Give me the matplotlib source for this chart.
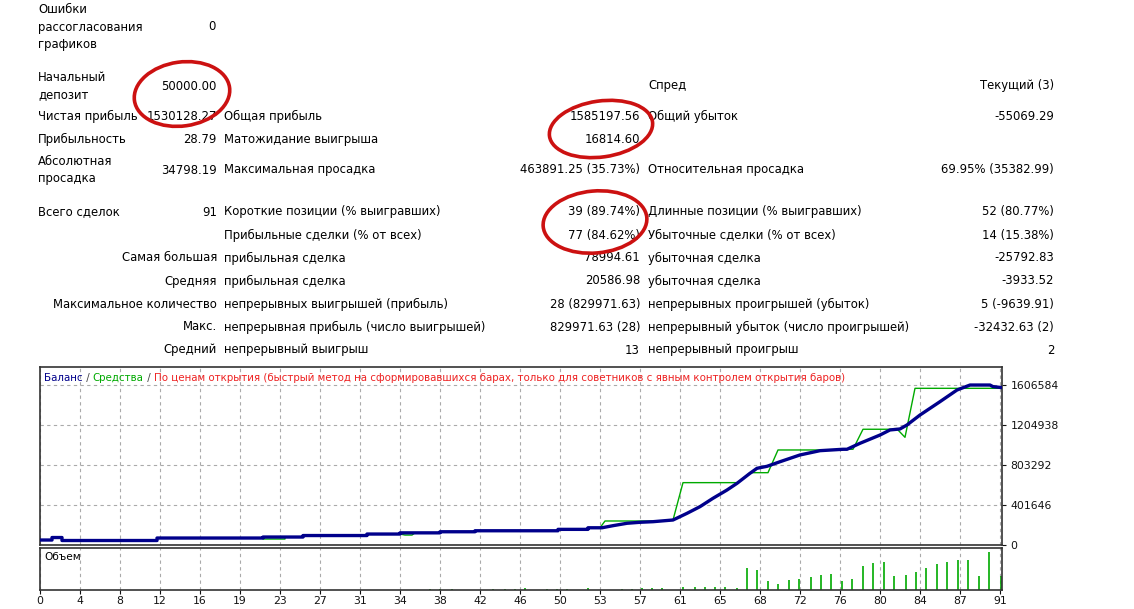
import matplotlib as mpl
mpl.use('Agg')
from matplotlib import pyplot as plt
from matplotlib.patches import Ellipse

W, H = 1134, 609

# ---- report table rows ----
rows_left = [
    # (y, label col1, value col2, label col3, value col4, label col5, value col6)
    (86,  'Начальный\nдепозит', '50000.00', '', '', 'Спред', 'Текущий (3)'),
    (116, 'Чистая прибыль', '1530128.27', 'Общая прибыль', '1585197.56', 'Общий убыток', '-55069.29'),
    (139, 'Прибыльность', '28.79', 'Матожидание выигрыша', '16814.60', '', ''),
    (170, 'Абсолютная\nпросадка', '34798.19', 'Максимальная просадка', '463891.25 (35.73%)',
     'Относительная просадка', '69.95% (35382.99)'),
    (212, 'Всего сделок', '91', 'Короткие позиции (% выигравших)', '39 (89.74%)',
     'Длинные позиции (% выигравших)', '52 (80.77%)'),
    (235, '', '', 'Прибыльные сделки (% от всех)', '77 (84.62%)',
     'Убыточные сделки (% от всех)', '14 (15.38%)'),
]
rows_right = [
    (258, 'Самая большая', 'прибыльная сделка', '78994.61', 'убыточная сделка', '-25792.83'),
    (281, 'Средняя', 'прибыльная сделка', '20586.98', 'убыточная сделка', '-3933.52'),
    (304, 'Максимальное количество', 'непрерывных выигрышей (прибыль)', '28 (829971.63)',
     'непрерывных проигрышей (убыток)', '5 (-9639.91)'),
    (327, 'Макс.', 'непрерывная прибыль (число выигрышей)', '829971.63 (28)',
     'непрерывный убыток (число проигрышей)', '-32432.63 (2)'),
    (350, 'Средний', 'непрерывный выигрыш', '13', 'непрерывный проигрыш', '2'),
]

# ---- chart data (x in grid positions, one grid step per x label) ----
x_labels = ['0', '4', '8', '12', '16', '19', '23', '27', '31', '34', '38', '42', '46',
            '50', '53', '57', '61', '65', '68', '72', '76', '80', '84', '87', '91']
y_ticks = [0, 401646, 803292, 1204938, 1606584]

bal_x = [0.0, 0.3, 0.3, 0.55, 0.55, 2.925, 2.925, 5.575, 5.575, 6.575, 6.575, 8.175,
         8.175, 9.0, 9.0, 10.0, 10.0, 10.875, 10.875, 12.95, 12.95, 13.7, 13.7, 14.05,
         14.325, 14.675, 15.0, 15.325, 15.825, 16.175, 16.5, 16.825, 17.175, 17.425,
         17.75, 17.925, 18.175, 18.5, 19.0, 19.5, 20.075, 20.175, 20.5, 21.0, 21.25,
         21.5, 21.675, 22.0, 22.5, 22.925, 23.25, 23.75, 23.825, 24.05]
bal_y = [50000, 50000, 75000, 75000, 45000, 45000, 70000, 70000, 80000, 80000, 95000,
         95000, 110000, 110000, 122000, 122000, 133000, 133000, 143000, 143000, 157000,
         157000, 173000, 173000, 194000, 218000, 228000, 234000, 251000, 318000, 385000,
         469000, 552000, 619000, 720000, 770000, 790000, 836000, 904000, 947000,
         961000, 961000, 1021000, 1104000, 1155000, 1165000, 1205000, 1305000,
         1439000, 1556000, 1606000, 1606000, 1590000, 1580000]

eq_x = [0.0, 0.3, 0.3, 0.55, 0.55, 2.925, 2.925, 5.575, 5.575, 6.125, 6.125, 6.575,
        6.575, 8.175, 8.175, 9.0, 9.125, 9.3, 9.375, 10.0, 10.0, 10.875, 10.875, 12.95,
        12.95, 13.7, 13.7, 14.0, 14.125, 15.3, 15.325, 15.825, 16.075, 17.425, 17.425,
        17.75, 18.2, 18.45, 20.0, 20.125, 20.325, 20.575, 21.375, 21.425, 21.625,
        21.875, 24.05]
eq_y = [50000, 50000, 70000, 70000, 45000, 45000, 70000, 70000, 60000, 60000, 80000,
        80000, 95000, 95000, 110000, 110000, 100000, 100000, 122000, 122000, 133000,
        133000, 143000, 143000, 157000, 157000, 173000, 173000, 241000, 241000, 234000,
        251000, 626000, 626000, 619000, 726000, 726000, 954000, 954000, 961000, 961000,
        1162000, 1162000, 1165000, 1081000, 1573000, 1573000]

vol_x = [9.75, 10.0, 10.3, 11.325, 11.625, 11.875, 12.125, 12.675, 12.925, 13.175, 13.7,
         14.55, 14.8, 15.05, 15.3, 15.55, 16.075, 16.375, 16.625, 16.875, 17.125, 17.425,
         17.675, 17.925, 18.2, 18.45, 18.725, 18.975, 19.275, 19.525, 19.775, 20.05,
         20.3, 20.575, 20.825, 21.1, 21.35, 21.65, 21.9, 22.15, 22.425, 22.675, 22.95,
         23.2, 23.475, 23.725, 24.025]
vol_y = [1.0, 1.0, 1.0, 1.0, 1.0, 1.0, 1.5, 1.0, 1.0, 1.0, 2.0, 1.0, 1.0, 2.0, 2.0,
         2.0, 2.5, 2.5, 3.0, 3.0, 3.0, 2.0, 21.0, 19.3, 8.3, 6.0, 9.3, 11.0, 13.0,
         14.3, 15.7, 8.3, 10.7, 23.3, 26.0, 27.3, 13.3, 14.3, 17.3, 21.7, 25.7, 27.3,
         29.3, 29.7, 13.3, 36.7, 14.0]

NAVY = '#00008b'
GREEN = '#00aa00'
RED = '#cc1111'

plt.rcParams['font.family'] = ['DejaVu Sans']
fig = plt.figure(figsize=(W / 100, H / 100), dpi=100)


def fx(px):
    return px / W


def fy(py):
    return 1 - py / H


fs = 8.4
fig.text(fx(38), fy(27), 'Ошибки\nрассогласования\nграфиков', fontsize=fs, va='center',
         ha='left', linespacing=1.45)
fig.text(fx(216), fy(27), '0', fontsize=fs, va='center', ha='right')

for y, l1, v2, l3, v4, l5, v6 in rows_left:
    fig.text(fx(38), fy(y), l1, fontsize=fs, va='center', ha='left', linespacing=1.4)
    fig.text(fx(217), fy(y), v2, fontsize=fs, va='center', ha='right')
    fig.text(fx(224), fy(y), l3, fontsize=fs, va='center', ha='left')
    fig.text(fx(640), fy(y), v4, fontsize=fs, va='center', ha='right')
    fig.text(fx(648), fy(y), l5, fontsize=fs, va='center', ha='left')
    fig.text(fx(1054), fy(y), v6, fontsize=fs, va='center', ha='right')

for y, l1, l3, v4, l5, v6 in rows_right:
    fig.text(fx(217), fy(y), l1, fontsize=fs, va='center', ha='right')
    fig.text(fx(224), fy(y), l3, fontsize=fs, va='center', ha='left')
    fig.text(fx(640), fy(y), v4, fontsize=fs, va='center', ha='right')
    fig.text(fx(648), fy(y), l5, fontsize=fs, va='center', ha='left')
    fig.text(fx(1054), fy(y), v6, fontsize=fs, va='center', ha='right')

# ---- main balance / equity chart ----
ax = fig.add_axes([fx(40), fy(545), fx(962), 178 / H])
ax.plot(eq_x, eq_y, color=GREEN, lw=1.0, zorder=3)
ax.plot(bal_x, bal_y, color=NAVY, lw=2.4, zorder=4, solid_joinstyle='round')
ax.set_xlim(0, 24.05)
ax.set_ylim(0, 1787000)
ax.set_xticks(range(len(x_labels)))
ax.set_xticklabels([])
ax.tick_params(axis='x', length=0)
ax.set_yticks(y_ticks)
ax.yaxis.tick_right()
ax.set_yticklabels([str(v) for v in y_ticks], fontsize=7.8)
ax.tick_params(axis='y', length=3, pad=3, colors='#111111')
ax.grid(True, ls=(0, (3, 3)), color='#aaaaaa', lw=0.8)
for s in ax.spines.values():
    s.set_color('#333333')
    s.set_linewidth(1.2)

title_parts = [('Баланс', NAVY), (' / ', '#444444'), ('Средства', GREEN), (' / ', '#444444'),
               ('По ценам открытия (быстрый метод на сформировавшихся барах, только для '
                'советников с явным контролем открытия баров)', '#ee2222')]
renderer = fig.canvas.get_renderer()
xpos = fx(44)
for txt, col in title_parts:
    t = fig.text(xpos, fy(378), txt, color=col, fontsize=7.4, va='center', ha='left')
    xpos += t.get_window_extent(renderer=renderer).width / W

# ---- volume panel ----
axv = fig.add_axes([fx(40), fy(590), fx(962), 42 / H])
axv.vlines(vol_x, 0, vol_y, color=GREEN, lw=1.2)
axv.set_xlim(0, 24.05)
axv.set_ylim(0, 41)
axv.set_yticks([])
axv.set_xticks(range(len(x_labels)))
axv.set_xticklabels(x_labels, fontsize=7.8)
axv.tick_params(axis='x', length=3, pad=1.5, colors='#111111')
axv.grid(True, axis='x', ls=(0, (3, 3)), color='#aaaaaa', lw=0.8)
for s in axv.spines.values():
    s.set_color('#333333')
    s.set_linewidth(1.2)
axv.text(4 / 962, 0.78, 'Объем', transform=axv.transAxes, fontsize=7.6, va='center')

# ---- red hand-drawn ellipses ----
ov = fig.add_axes([0, 0, 1, 1], zorder=10)
ov.set_xlim(0, W)
ov.set_ylim(H, 0)
ov.axis('off')
for cx, cy, ew, eh, ang in [(182, 94, 96, 64, -8), (601, 129, 104, 56, -8),
                            (595, 222, 104, 62, -5)]:
    ov.add_patch(Ellipse((cx, cy), ew, eh, angle=ang, fill=False, ec=RED, lw=2.6))

fig.savefig('out.png', dpi=100, facecolor='white')
